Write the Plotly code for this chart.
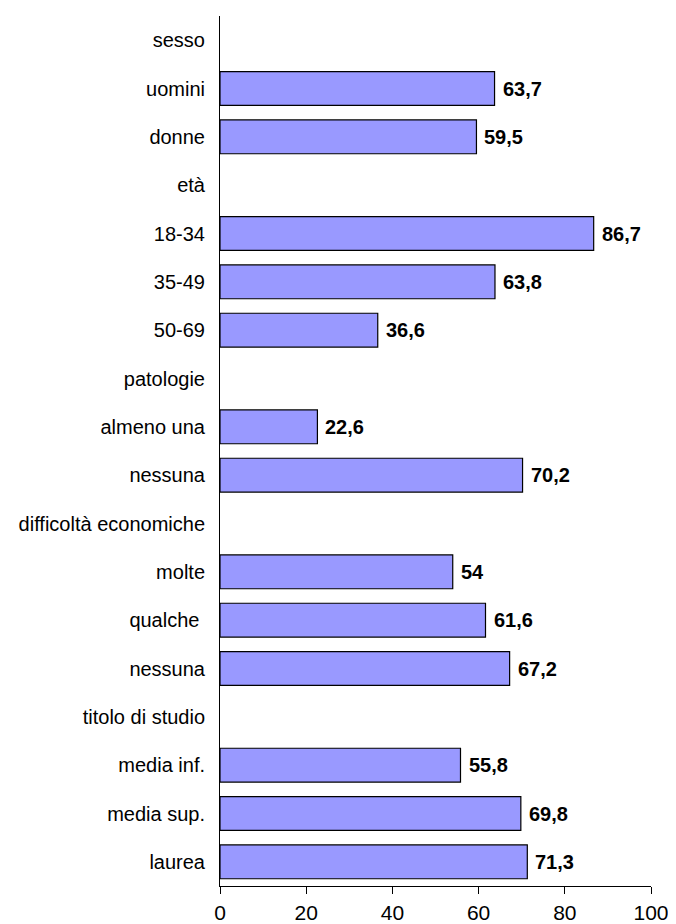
import plotly.graph_objects as go

categories = ["sesso", "uomini", "donne", "età", "18-34", "35-49", "50-69",
              "patologie", "almeno una", "nessuna", "difficoltà economiche",
              "molte", "qualche ", "nessuna", "titolo di studio",
              "media inf.", "media sup.", "laurea"]
values = [None, 63.7, 59.5, None, 86.7, 63.8, 36.6, None, 22.6, 70.2, None,
          54, 61.6, 67.2, None, 55.8, 69.8, 71.3]
x_ticks = [0, 20, 40, 60, 80, 100]

positions = list(range(len(categories)))
FONT = "Liberation Sans, Arial, sans-serif"

fig = go.Figure()
fig.add_trace(go.Bar(
    y=positions, x=values, orientation="h",
    marker=dict(color="#9999FF", line=dict(color="black", width=1.2)),
    width=0.7,
    hoverinfo="skip",
))

for p, v in zip(positions, values):
    if v is None:
        continue
    fig.add_annotation(
        x=v, y=p, xref="x", yref="y",
        text=("%g" % v).replace(".", ","),
        showarrow=False, xanchor="left", xshift=6,
        font=dict(family=FONT, size=20, color="black", weight="bold"),
    )

fig.update_layout(
    width=676, height=924,
    margin=dict(l=212, r=33, t=8, b=46, autoexpand=False),
    paper_bgcolor="white", plot_bgcolor="white",
    showlegend=False,
    font=dict(family=FONT, color="black"),
)
fig.update_xaxes(
    range=[0, 100], tickvals=x_ticks, ticktext=[str(t) for t in x_ticks],
    showgrid=False, zeroline=False,
    showline=True, linecolor="black", linewidth=1,
    ticks="outside", ticklen=7, tickcolor="black", tickwidth=1,
    ticklabelstandoff=1,
    tickfont=dict(size=21, family=FONT),
)
fig.update_yaxes(
    range=[len(categories) - 0.5, -0.5],
    tickvals=positions, ticktext=categories,
    showgrid=False, zeroline=False,
    showline=True, linecolor="black", linewidth=1,
    ticks="", ticklabelstandoff=10,
    tickfont=dict(size=20, family=FONT),
)

fig.write_html("out.html")
